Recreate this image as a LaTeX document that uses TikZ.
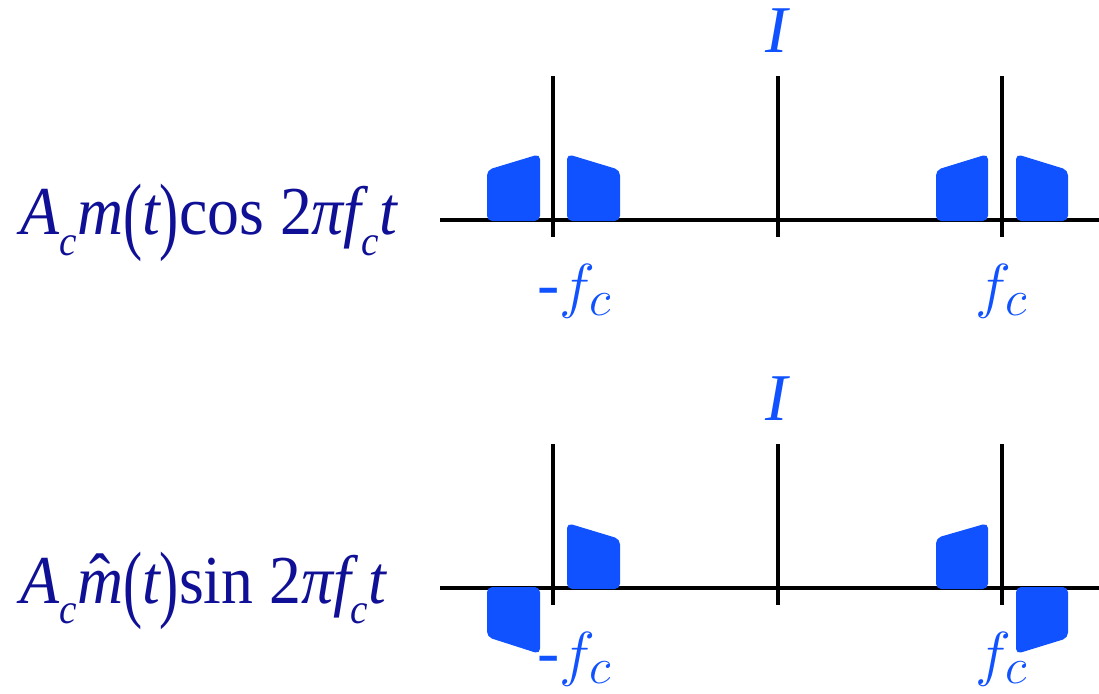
\documentclass[tikz,border=0pt]{standalone}
\usepackage[no-math]{fontspec}
\setmainfont{Liberation Serif}
\newfontfamily\timesfam{Liberation Serif}
\usepackage{graphicx}
\definecolor{bandblue}{RGB}{16,82,255}
\definecolor{labnavy}{RGB}{16,16,150}
\newcommand{\lowc}{\raisebox{-0.3em}{\fontsize{12}{12}\selectfont\itshape c}}
\newcommand{\tallp}[1]{\raisebox{-0.12em}{\scalebox{0.9}[1.25]{#1}}}
\newcommand{\hatm}{\makebox[0pt][l]{\hspace{0.2em}\raisebox{0.02em}{ˆ}}{\itshape m}}

\begin{document}
\begin{tikzpicture}[x=0.01cm,y=-0.01cm,
axis/.style={line width=1.3pt},
band/.style={fill=bandblue,rounded corners=1.5pt},
tag/.style={text=bandblue,font=\timesfam\fontsize{19}{21}\selectfont,inner sep=0pt,anchor=base},
sig/.style={text=labnavy,font=\timesfam\fontsize{19.5}{21}\selectfont,inner sep=0pt,anchor=base west}]
\useasboundingbox (0,0) rectangle (1099,694);
\coordinate (TL) at (440,220);
\coordinate (TR) at (1099,220);
\coordinate (BL) at (440,588);
\coordinate (BR) at (1099,588);
\draw[axis] (TL)--(TR);
\draw[axis] (BL)--(BR);
\foreach \x/\n in {553/1,778/2,1002/3}{
  \coordinate (tu\n) at (\x,76);
  \coordinate (td\n) at (\x,237);
  \coordinate (bu\n) at (\x,444);
  \coordinate (bd\n) at (\x,605);
  \draw[axis] (tu\n)--(td\n);
  \draw[axis] (bu\n)--(bd\n);
}
\fill[band] (487,221)--(487,170)--(540,154)--(540,221)--cycle;
\fill[band] (567,221)--(567,154)--(620,170)--(620,221)--cycle;
\fill[band] (936,221)--(936,170)--(988,154)--(988,221)--cycle;
\fill[band] (1016,221)--(1016,154)--(1068,170)--(1068,221)--cycle;
\fill[band] (487,587)--(540,587)--(540,654)--(487,637)--cycle;
\fill[band] (567,589)--(567,523)--(620,539)--(620,589)--cycle;
\fill[band] (936,589)--(936,538)--(988,523)--(988,589)--cycle;
\fill[band] (1016,587)--(1068,587)--(1068,638)--(1016,654)--cycle;
\node[tag] (i1) at (777,52) {\itshape I};
\node[tag] (i2) at (777,420) {\itshape I};
\node[tag] (nf1) at (575,306) {-$f_c$};
\node[tag] (pf1) at (1002,306) {$f_c$};
\node[tag] (nf2) at (575,674) {-$f_c$};
\node[tag] (pf2) at (1002,674) {$f_c$};
\node[sig] (cosine) at (20,235) {\scalebox{0.93}[1]{{\itshape A}\lowc{\itshape m}\tallp{(}{\itshape t}\tallp{)}cos 2{\itshape π}{\itshape f}\lowc{\itshape t}}};
\node[sig] (sine) at (20,603) {\scalebox{0.93}[1]{{\itshape A}\lowc\hatm\tallp{(}{\itshape t}\tallp{)}sin 2{\itshape π}{\itshape f}\lowc{\itshape t}}};
\end{tikzpicture}
\end{document}
